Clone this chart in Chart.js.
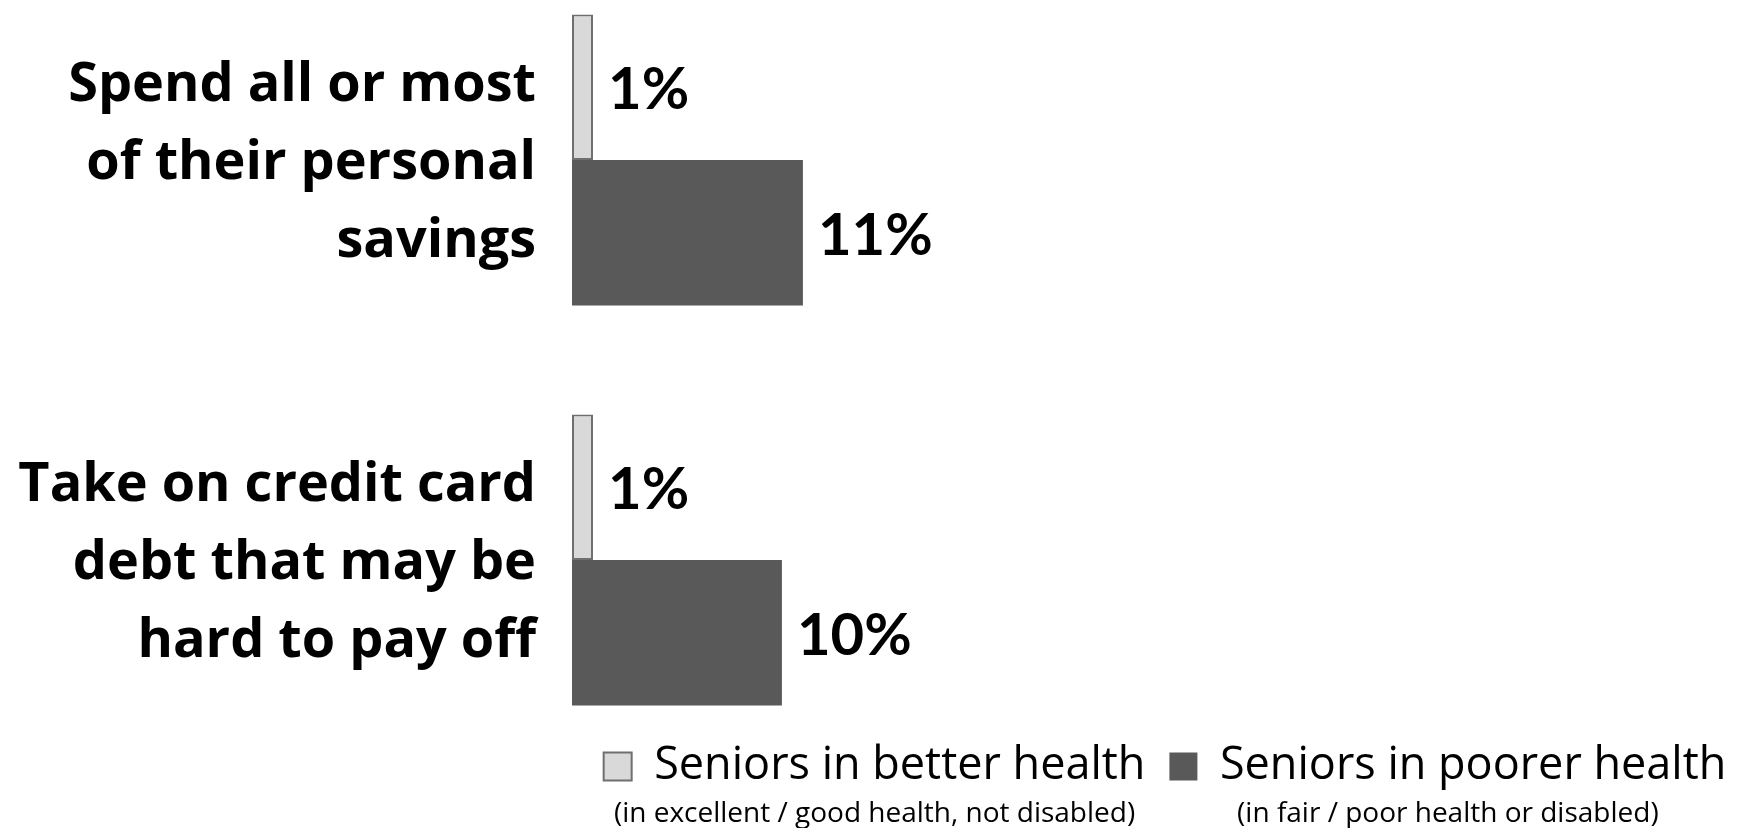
<!DOCTYPE html>
<html>
<head>
<meta charset="utf-8">
<script src="https://cdn.jsdelivr.net/npm/chart.js@4"></script>
<style>
  html, body { margin: 0; padding: 0; background: #fff; }
  #wrap { width: 1758px; height: 828px; position: relative; }
</style>
</head>
<body>
<div id="wrap"><canvas id="chart"></canvas></div>
<script>
  // categories (multi-line labels)
  const categories = [
    ['Spend all or most', 'of their personal', 'savings'],
    ['Take on credit card', 'debt that may be', 'hard to pay off']
  ];
  const seriesNames = ['Seniors in better health', 'Seniors in poorer health'];
  const seriesNotes = ['(in excellent / good health, not disabled)', '(in fair / poor health or disabled)'];
  const betterHealth = [1, 1];
  const poorerHealth = [11, 10];

  // value labels next to each bar
  const valueLabels = {
    id: 'valueLabels',
    afterDatasetsDraw(chart) {
      const ctx = chart.ctx;
      ctx.save();
      ctx.font = 'bold 58px Lato';
      ctx.fillStyle = '#000';
      ctx.textBaseline = 'alphabetic';
      ctx.textAlign = 'left';
      chart.data.datasets.forEach((ds, i) => {
        chart.getDatasetMeta(i).data.forEach((bar, j) => {
          ctx.fillText(ds.data[j] + '%', bar.x + 15, bar.y + 22);
        });
      });
      ctx.restore();
    }
  };

  // small notes under each legend item
  const legendNotes = {
    id: 'legendNotes',
    afterDraw(chart) {
      const boxes = chart.legend && chart.legend.legendHitBoxes;
      if (!boxes) return;
      const ctx = chart.ctx;
      ctx.save();
      ctx.font = '28px "Open Sans"';
      ctx.fillStyle = '#000';
      ctx.textBaseline = 'middle';
      ctx.textAlign = 'center';
      boxes.forEach((b, i) => {
        ctx.fillText(seriesNotes[i], b.left + b.width / 2, b.top + b.height + 25);
      });
      ctx.restore();
    }
  };

  new Chart(document.getElementById('chart'), {
    type: 'bar',
    data: {
      labels: categories,
      datasets: [
        {
          label: seriesNames[0],
          data: betterHealth,
          backgroundColor: '#d9d9d9',
          borderColor: '#6f6f6f',
          borderWidth: 2,
          borderSkipped: false,
          clip: false
        },
        {
          label: seriesNames[1],
          data: poorerHealth,
          backgroundColor: '#595959',
          borderColor: '#595959',
          borderWidth: 0,
          borderSkipped: false,
          clip: false
        }
      ]
    },
    options: {
      indexAxis: 'y',
      responsive: true,
      maintainAspectRatio: false,
      animation: false,
      categoryPercentage: 0.7275,
      barPercentage: 1,
      layout: { padding: { top: 160, right: 0, bottom: 29, left: 0 } },
      plugins: {
        tooltip: { enabled: false },
        legend: {
          position: 'bottom',
          fullSize: false,
          labels: {
            color: '#000',
            font: { family: '"Open Sans"', size: 45 },
            boxWidth: 28,
            boxHeight: 28,
            padding: 24
          }
        }
      },
      scales: {
        y: {
          type: 'category',
          offset: false,
          grid: { display: false },
          border: { display: false },
          ticks: {
            color: '#000',
            padding: 28,
            labelOffset: 4,
            font: { family: '"Open Sans"', size: 54, weight: 'bold', lineHeight: '78px' }
          },
          afterFit: s => { s.width = 572; }
        },
        x: {
          min: 0,
          max: 56.5,
          grid: { display: false },
          border: { display: false },
          ticks: { display: false },
          afterFit: s => { s.height = 160; }
        }
      }
    },
    plugins: [valueLabels, legendNotes]
  });
</script>
</body>
</html>
